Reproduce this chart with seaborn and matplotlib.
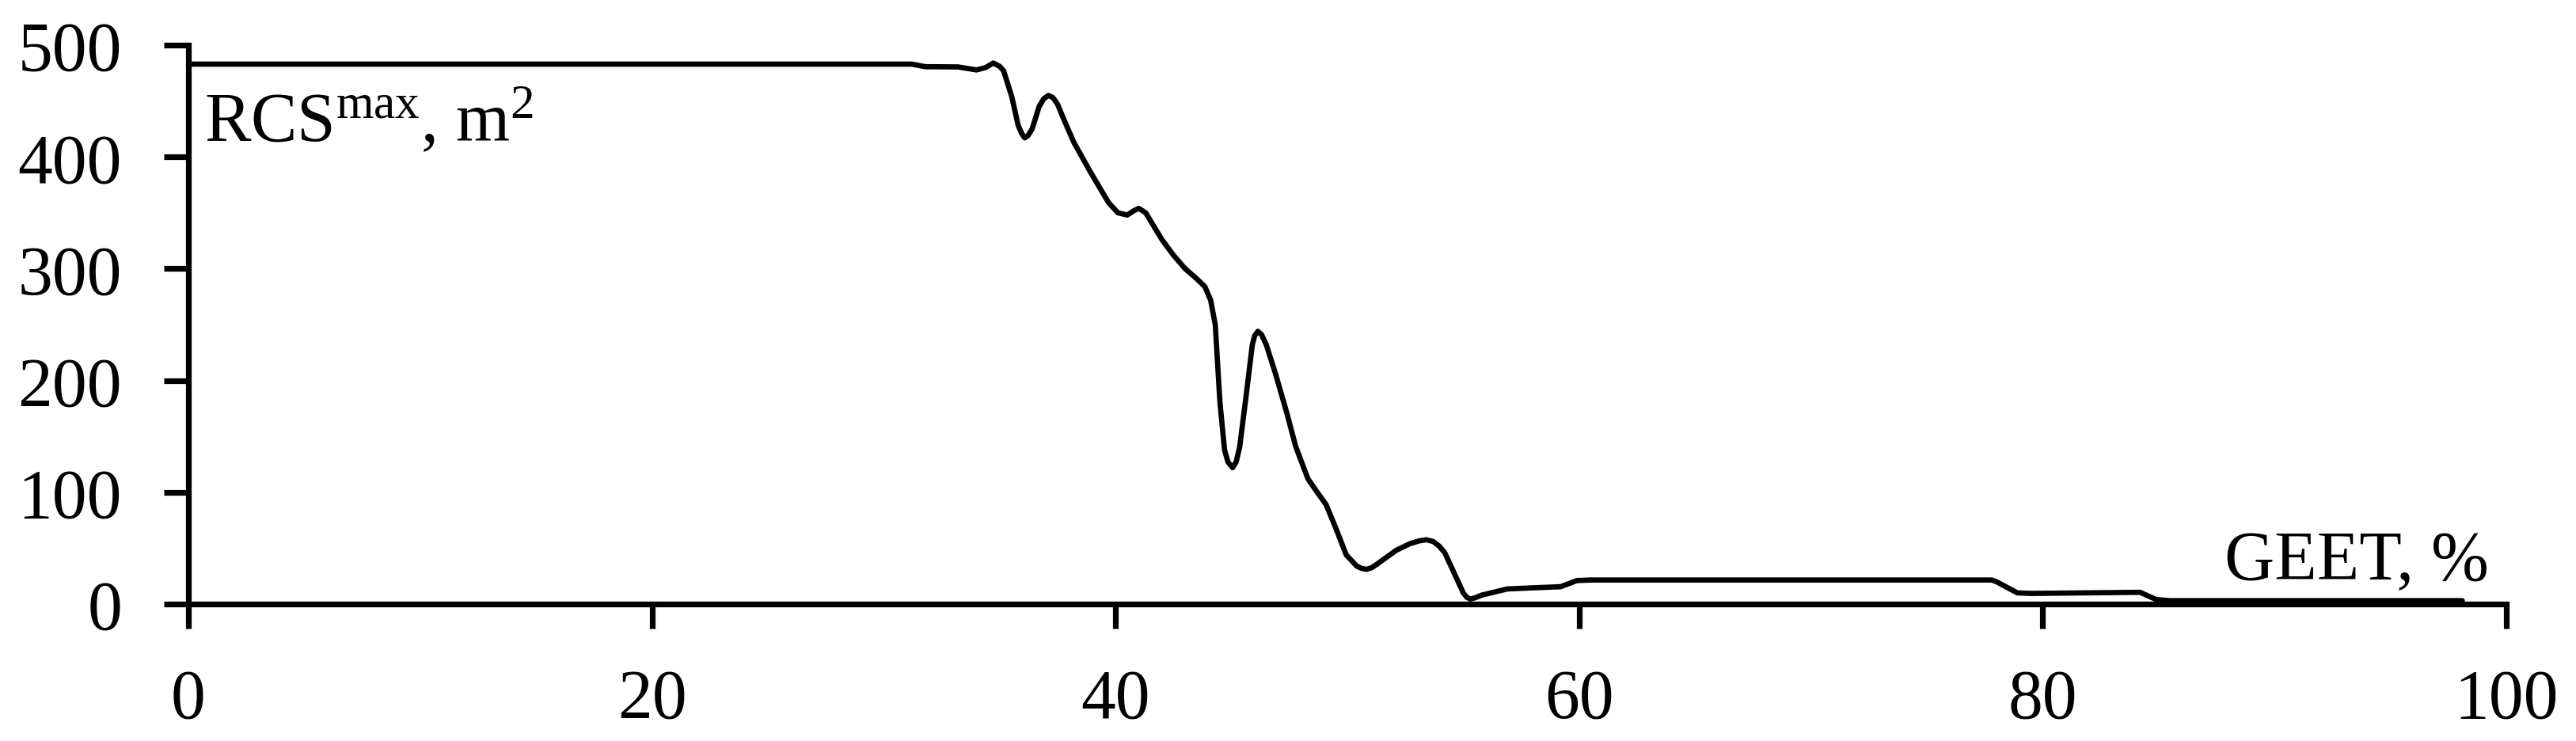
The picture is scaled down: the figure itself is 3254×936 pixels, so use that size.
import matplotlib
matplotlib.use("Agg")
import matplotlib.pyplot as plt
import seaborn as sns
import pandas as pd

# GEET, % (x) and RCS max, m^2 (y)
geet = [0, 29.0, 31.2, 31.8, 33.2, 34.0, 34.4, 34.72, 35.0, 35.17, 35.52, 35.8,
        35.95, 36.08, 36.22, 36.4, 36.7, 36.9, 37.1, 37.3, 37.5, 37.8, 38.2, 38.9,
        39.7, 40.1, 40.5, 40.8, 41.0, 41.3, 42.0, 42.5, 43.0, 43.5, 43.85, 44.1,
        44.3, 44.5, 44.7, 44.85, 45.05, 45.2, 45.35, 45.6, 45.9, 46.0, 46.14, 46.3,
        46.5, 46.9, 47.4, 47.77, 48.3, 48.7, 49.08, 49.5, 49.95, 50.4, 50.6, 50.82,
        51.05, 51.3, 52.1, 52.7, 53.1, 53.4, 53.7, 53.95, 54.2, 54.6, 55.0, 55.15,
        55.3, 55.5, 55.8, 56.9, 58.0, 59.2, 59.9, 60.5, 70.0, 77.8, 78.0, 78.9,
        79.5, 84.2, 84.9, 85.5, 98.1]
rcs = [483, 483, 483, 480.7, 480.5, 477.8, 480, 484, 481, 477, 454, 428,
       421, 417, 419, 425, 445, 452, 455, 453, 447, 432, 413, 387,
       359, 350, 348, 352, 354, 350, 326, 312, 300, 291, 284, 272,
       250, 181, 138, 127, 122, 127, 140, 181, 232, 240, 244, 241,
       232, 206, 170, 141, 112, 100, 89, 68, 44, 34, 32, 31,
       32.5, 36, 48, 54, 56.5, 57.5, 56, 52, 46, 28, 10, 6,
       4.5, 5.5, 8, 13.5, 14.5, 15.5, 21, 21.5, 21.5, 21.5, 20, 10,
       9.5, 10.5, 4, 3, 3]

x_ticks = [0, 20, 40, 60, 80, 100]
y_ticks = [0, 100, 200, 300, 400, 500]
x_label = "GEET, %"
y_label = r"RCS$^{\mathrm{max}}$, m$^{2}$"

sns.set_theme(style="white")
plt.rcParams["font.family"] = ["Liberation Serif", "DejaVu Serif"]
plt.rcParams["mathtext.fontset"] = "custom"
plt.rcParams["mathtext.rm"] = "Liberation Serif"
plt.rcParams["mathtext.it"] = "Liberation Serif:italic"
plt.rcParams["mathtext.bf"] = "Liberation Serif:bold"

df = pd.DataFrame({"GEET": geet, "RCS": rcs})

W, H = 3255, 937
fig = plt.figure(figsize=(W / 100, H / 100), dpi=100)
fig.patch.set_facecolor("white")
ax = fig.add_axes([238 / W, (H - 764) / H, 2928 / W, 706 / H])

sns.lineplot(data=df, x="GEET", y="RCS", ax=ax, color="black", linewidth=4.8,
             sort=False, estimator=None)
for ln in ax.get_lines():
    ln.set_solid_joinstyle("round")
    ln.set_solid_capstyle("round")

ax.set_xlim(0, 100)
ax.set_ylim(0, 500)
ax.set_xticks(x_ticks)
ax.set_yticks(y_ticks)
ax.set_xticklabels([str(v) for v in x_ticks])
ax.set_yticklabels([str(v) for v in y_ticks])
ax.set_xlabel("")
ax.set_ylabel("")

for side in ["top", "right"]:
    ax.spines[side].set_visible(False)
for side in ["left", "bottom"]:
    ax.spines[side].set_color("black")
    ax.spines[side].set_linewidth(5.2)

ax.tick_params(axis="both", which="major", direction="out", length=22.3,
               width=5.2, color="black", labelsize=63, labelcolor="black")
ax.tick_params(axis="y", pad=38, left=True)
ax.tick_params(axis="x", pad=36, bottom=True)
ax.grid(False)
ax.set_facecolor("white")

ax.text(0.0068, 0.830, y_label, transform=ax.transAxes, fontsize=63,
        ha="left", va="baseline", color="black")
ax.text(0.8784, 0.0458, x_label, transform=ax.transAxes, fontsize=63,
        ha="left", va="baseline", color="black")

fig.savefig("out.png", dpi=100, facecolor="white")
